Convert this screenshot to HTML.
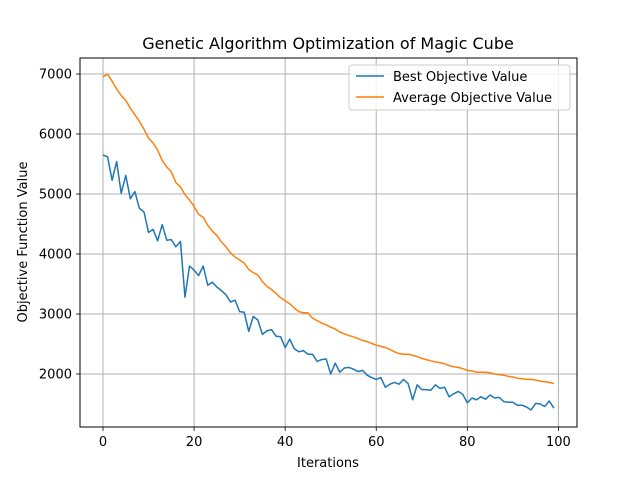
<!DOCTYPE html>
<html><head><meta charset="utf-8"><style>
body{margin:0;background:#fff;}
svg text{font-family:"DejaVu Sans","Liberation Sans",sans-serif;fill:#000;}
</style></head><body>
<svg id="chart" width="640" height="480">
<rect width="640" height="480" fill="#fff"/>
<text x="328" y="49" font-size="16" text-anchor="middle">Genetic Algorithm Optimization of Magic Cube</text>
<g id="grid"></g><g id="ticks"></g><g id="lines"></g>
<rect x="80" y="58" width="497" height="369" fill="none" stroke="#000" stroke-width="1"/>
<text x="328" y="467" font-size="13" text-anchor="middle">Iterations</text>
<text transform="translate(27,242) rotate(-90)" font-size="13" text-anchor="middle">Objective Function Value</text>
<g>
<rect x="349" y="65" width="221" height="45" rx="3" fill="#fff" fill-opacity="0.8" stroke="#ccc"/>
<g><line x1="356" y1="76" x2="384" y2="76" stroke="#1f77b4" stroke-width="1.5"/><text x="393" y="81" font-size="13">Best Objective Value</text></g>
<g><line x1="356" y1="97" x2="384" y2="97" stroke="#ff7f0e" stroke-width="1.5"/><text x="393" y="102" font-size="13">Average Objective Value</text></g>
</g>
</svg>
<script>
const best=[5650,5620,5230,5540,5010,5310,4920,5040,4760,4700,4360,4410,4220,4490,4230,4240,4120,4210,3280,3800,3730,3640,3800,3480,3530,3450,3390,3320,3200,3230,3040,3030,2710,2960,2900,2660,2720,2740,2630,2620,2440,2580,2420,2370,2390,2330,2330,2210,2240,2250,2000,2180,2030,2100,2110,2080,2040,2060,1980,1940,1910,1940,1780,1830,1860,1830,1910,1840,1570,1820,1740,1740,1730,1820,1760,1780,1620,1670,1710,1660,1520,1600,1570,1620,1580,1650,1600,1610,1540,1530,1530,1480,1480,1450,1400,1510,1500,1460,1550,1430];
const average=[6950,7000,6880,6750,6640,6560,6430,6320,6210,6080,5930,5850,5730,5560,5450,5370,5190,5120,4990,4900,4790,4660,4610,4480,4380,4310,4200,4120,4020,3950,3900,3850,3740,3690,3650,3540,3460,3410,3340,3270,3220,3170,3100,3040,3020,3020,2930,2890,2850,2820,2780,2750,2700,2670,2640,2620,2590,2560,2540,2510,2480,2460,2440,2410,2370,2340,2330,2330,2310,2290,2260,2240,2220,2200,2190,2170,2140,2120,2110,2090,2060,2050,2030,2030,2030,2020,2000,1990,1980,1960,1950,1930,1920,1910,1910,1900,1880,1870,1860,1840];
const xTicks=[0,20,40,60,80,100];
const yTicks=[2000,3000,4000,5000,6000,7000];
const NS="http://www.w3.org/2000/svg";
function xs(v){return 103+v*(558.4-103)/100;}
function ys(v){return 374-(v-2000)*0.06;}
function mk(tag,attrs,parent){const e=document.createElementNS(NS,tag);for(const k in attrs)e.setAttribute(k,attrs[k]);parent.appendChild(e);return e;}
const grid=document.getElementById('grid'),ticks=document.getElementById('ticks'),lines=document.getElementById('lines');
xTicks.forEach(t=>{const x=xs(t);
 const g=mk('line',{x1:x,x2:x,y1:58,y2:427,stroke:'#b0b0b0','stroke-width':1},grid);
 
 
 mk('line',{x1:x,x2:x,y1:427,y2:431,stroke:'#000','stroke-width':0.8},ticks);
 const tx=mk('text',{x:x,y:446,'font-size':13,'text-anchor':'middle'},ticks);tx.textContent=t;
 
 
});
yTicks.forEach(t=>{const y=ys(t);
 const g=mk('line',{x1:80,x2:577,y1:y,y2:y,stroke:'#b0b0b0','stroke-width':1},grid);
 
 
 mk('line',{x1:76,x2:80,y1:y,y2:y,stroke:'#000','stroke-width':0.8},ticks);
 const tx=mk('text',{x:72,y:y+4.5,'font-size':13,'text-anchor':'end'},ticks);tx.textContent=t;
 
 
});
function series(arr,color,name){
 const p=mk('polyline',{points:arr.map((v,i)=>xs(i)+','+ys(v)).join(' '),fill:'none',stroke:color,'stroke-width':1.5,'stroke-linejoin':'round'},lines);
 
 
}
series(best,'#1f77b4','best-objective-line');
series(average,'#ff7f0e','average-objective-line');
</script>
</body></html>
